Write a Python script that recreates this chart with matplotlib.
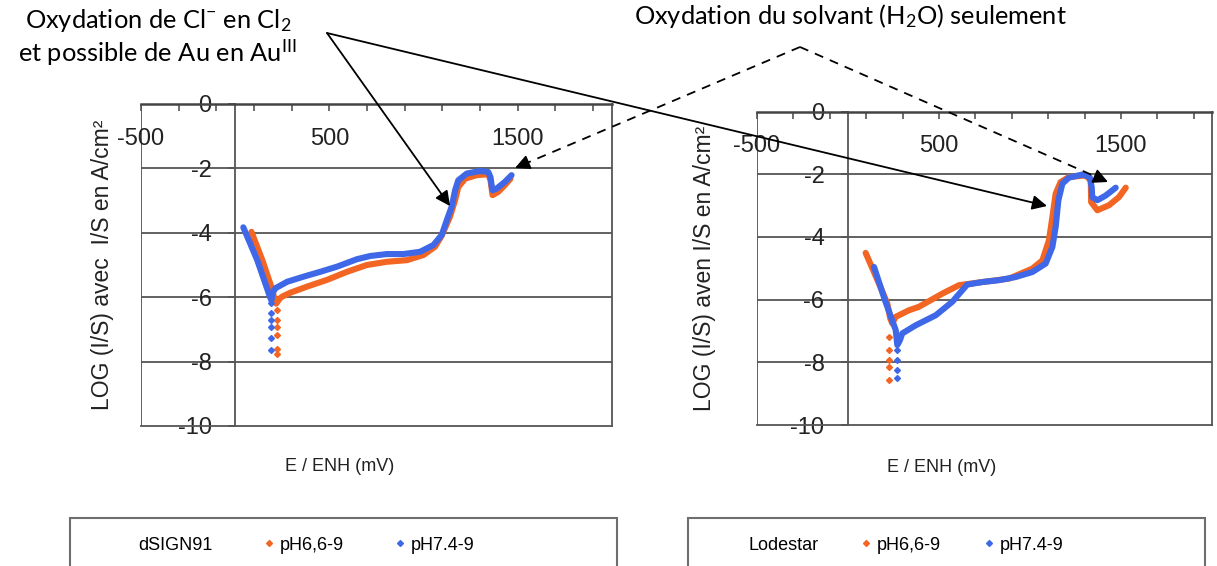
import numpy as np
import matplotlib.pyplot as plt
from matplotlib.patches import Rectangle
from matplotlib.lines import Line2D

plt.rcParams['font.family'] = ['Liberation Sans', 'DejaVu Sans']
plt.rcParams['axes.unicode_minus'] = False
plt.rcParams['mathtext.fontset'] = 'custom'
plt.rcParams['mathtext.rm'] = 'Lato'
plt.rcParams['mathtext.it'] = 'Lato:italic'

ORANGE = '#F26522'
BLUE = '#3F68E8'

# --- données (E en mV/ENH, log I/S) ---
# dSIGN91, pH6,6-9
d66_E = [86, 144, 197, 210, 218, 235, 250, 293, 382, 488, 594, 699, 805, 911, 999, 1061, 1096,
         1140, 1167, 1184, 1220, 1281, 1343, 1355, 1366, 1396, 1431, 1461]
d66_L = [-3.97, -4.85, -5.77, -6.10, -6.20, -6.05, -5.98, -5.86, -5.67, -5.46, -5.21, -5.00, -4.90,
         -4.85, -4.69, -4.43, -4.09, -3.50, -2.99, -2.58, -2.32, -2.21, -2.18, -2.37, -2.83, -2.73,
         -2.52, -2.32]
d66_tail_E = [223, 223, 223, 223, 223, 223]
d66_tail_L = [-6.39, -6.70, -6.92, -7.17, -7.61, -7.76]

# dSIGN91, pH7.4-9
d74_E = [43, 117, 184, 192, 200, 214, 276, 364, 452, 541, 646, 717, 805, 893, 981, 1052, 1096,
         1123, 1149, 1167, 1184, 1229, 1299, 1343, 1355, 1361, 1366, 1387, 1431, 1467]
d74_L = [-3.83, -4.85, -5.98, -6.10, -5.85, -5.72, -5.52, -5.36, -5.21, -5.05, -4.82, -4.72, -4.66,
         -4.66, -4.59, -4.38, -4.07, -3.61, -3.19, -2.68, -2.37, -2.16, -2.08, -2.11, -2.27, -2.52,
         -2.68, -2.63, -2.42, -2.21]
d74_tail_E = [188, 188, 188, 188, 188, 188]
d74_tail_L = [-6.19, -6.50, -6.70, -6.91, -7.27, -7.63]

# Lodestar, pH6,6-9
l66_E = [97, 170, 216, 232, 243, 262, 335, 390, 518, 610, 738, 885, 1013, 1068, 1104, 1123, 1141,
         1168, 1214, 1306, 1334, 1336, 1370, 1434, 1489, 1526]
l66_L = [-4.51, -5.49, -6.12, -6.60, -6.76, -6.55, -6.34, -6.23, -5.81, -5.54, -5.44, -5.33, -5.01,
         -4.75, -4.11, -3.37, -2.62, -2.25, -2.09, -2.04, -2.20, -2.89, -3.15, -2.99, -2.73, -2.43]
l66_tail_E = [225, 225, 225, 225, 225]
l66_tail_L = [-7.19, -7.61, -7.93, -8.14, -8.57]

# Lodestar, pH7.4-9
l74_E = [143, 203, 262, 271, 285, 298, 372, 482, 573, 655, 738, 830, 921, 1013, 1086, 1123, 1141,
         1156, 1178, 1214, 1287, 1328, 1339, 1342, 1370, 1416, 1471]
l74_L = [-4.96, -6.02, -6.97, -7.45, -7.30, -7.08, -6.82, -6.50, -6.07, -5.52, -5.44, -5.38, -5.28,
         -5.12, -4.85, -4.32, -3.68, -2.83, -2.30, -2.11, -2.01, -2.09, -2.41, -2.73, -2.83, -2.68,
         -2.43]
l74_tail_E = [271, 271, 271, 271]
l74_tail_L = [-7.61, -7.93, -8.25, -8.51]

x_ticks = np.arange(-500, 2001, 200)
x_labels = {-500: '-500', 500: '500', 1500: '1500'}
y_ticks = [0, -2, -4, -6, -8, -10]

W, H = 1217, 566
fig = plt.figure(figsize=(W / 100, H / 100), dpi=100)


def setup(ax, ylabel, lab_x, xlab_pos):
    ax.set_xlim(-500, 2000)
    ax.set_ylim(-10, 0)
    ax.spines['left'].set_position(('data', 0))
    for s in ax.spines.values():
        s.set_color('#555555')
        s.set_linewidth(1.3)
    ax.spines['top'].set_linewidth(1.8)
    ax.spines['top'].set_color('#444444')
    ax.axvline(-500, color='#555555', lw=1.3, zorder=1)
    ax.xaxis.tick_top()
    ax.set_xticks(x_ticks)
    ax.set_xticklabels([x_labels.get(int(v), '') for v in x_ticks])
    ax.tick_params(axis='x', direction='in', length=5, width=1.2, color='#555555',
                   pad=-33, labelsize=17, labelcolor='#222222')
    ax.set_yticks(y_ticks)
    ax.tick_params(axis='y', direction='out', length=5, width=1.2, color='#555555',
                   pad=12, labelsize=17, labelcolor='#222222')
    for v in y_ticks[1:-1]:
        ax.axhline(v, color='#555555', lw=1.3, zorder=1)
    ax.set_ylabel(ylabel, fontsize=16.5, color='#222222')
    ax.yaxis.set_label_coords(lab_x, 0.5)
    ax.set_xlabel('E / ENH (mV)', fontsize=13, color='#222222')
    ax.xaxis.set_label_position('bottom')
    ax.xaxis.set_label_coords(*xlab_pos)


def curves(ax, e66, l66, t66e, t66l, e74, l74, t74e, t74l):
    ax.plot(e66, l66, color=ORANGE, lw=4.4, solid_capstyle='round', solid_joinstyle='round', zorder=3)
    ax.plot(t66e, t66l, 'D', color=ORANGE, ms=3, zorder=3)
    ax.plot(e74, l74, color=BLUE, lw=4.4, solid_capstyle='round', solid_joinstyle='round', zorder=4)
    ax.plot(t74e, t74l, 'D', color=BLUE, ms=3, zorder=4)


ax1 = fig.add_axes([141 / W, 1 - 426 / H, 471 / W, 322 / H])
setup(ax1, 'LOG (I/S) avec  I/S en A/cm²', -0.057, (0.4225, -0.10))
curves(ax1, d66_E, d66_L, d66_tail_E, d66_tail_L, d74_E, d74_L, d74_tail_E, d74_tail_L)

ax2 = fig.add_axes([757 / W, 1 - 425 / H, 455 / W, 313.5 / H])
setup(ax2, 'LOG (I/S) aven I/S en A/cm²', -0.090, (0.4066, -0.108))
curves(ax2, l66_E, l66_L, l66_tail_E, l66_tail_L, l74_E, l74_L, l74_tail_E, l74_tail_L)

# --- légendes (cadres coupés par le bas de l'image) ---
for x0, x1, name, hx, cs in [(70, 617, 'dSIGN91', 122, 2.8), (688, 1205, 'Lodestar', 732, 2.35)]:
    fig.add_artist(Rectangle((x0 / W, -0.1), (x1 - x0) / W, 0.1 + (566 - 518) / H,
                             transform=fig.transFigure, fill=False, ec='#6e6e6e', lw=1.5))
    handles = [Line2D([], [], ls='none'),
               Line2D([], [], ls='none', marker='D', color=ORANGE, ms=3),
               Line2D([], [], ls='none', marker='D', color=BLUE, ms=3)]
    fig.legend(handles, [name, 'pH6,6-9', 'pH7.4-9'], loc='center left',
               bbox_to_anchor=(hx / W, 1 - 545 / H), ncol=3, frameon=False, fontsize=13,
               handlelength=0.6, handletextpad=0.3, columnspacing=cs, borderpad=0,
               borderaxespad=0)

# --- annotations (coordonnées en pixels de l'image) ---
ov = fig.add_axes([0, 0, 1, 1], zorder=10)
ov.set_xlim(0, W)
ov.set_ylim(H, 0)
ov.axis('off')
ov.patch.set_alpha(0)

ov.text(158, 21, r'Oxydation de Cl$^{\mathrm{-}}$ en Cl$_{\mathrm{2}}$', family='Lato',
        fontsize=18.3, ha='center', va='center')
ov.text(157, 53, r'et possible de Au en Au$^{\mathrm{III}}$', family='Lato',
        fontsize=18.3, ha='center', va='center')
ov.text(850, 16, r'Oxydation du solvant (H$_{\mathrm{2}}$O) seulement', family='Lato',
        fontsize=18.3, ha='center', va='center')

src = (327, 33)
for tgt in [(450, 206), (1047, 206)]:
    ov.annotate('', xy=tgt, xytext=src,
                arrowprops=dict(arrowstyle='-|>', color='black', lw=1.3,
                                mutation_scale=22, shrinkA=0, shrinkB=0))

apex = (800, 47)
for tgt in [(515, 168), (1108, 182)]:
    v = np.subtract(tgt, apex)
    back = np.add(tgt, -v / np.hypot(*v) * 14)
    ov.plot([apex[0], back[0]], [apex[1], back[1]], color='black', lw=1.3, ls=(0, (5, 4)))
    ov.annotate('', xy=tgt, xytext=back,
                arrowprops=dict(arrowstyle='-|>', color='black', lw=1.3,
                                mutation_scale=22, shrinkA=0, shrinkB=0))

fig.savefig('out.png', dpi=100)
